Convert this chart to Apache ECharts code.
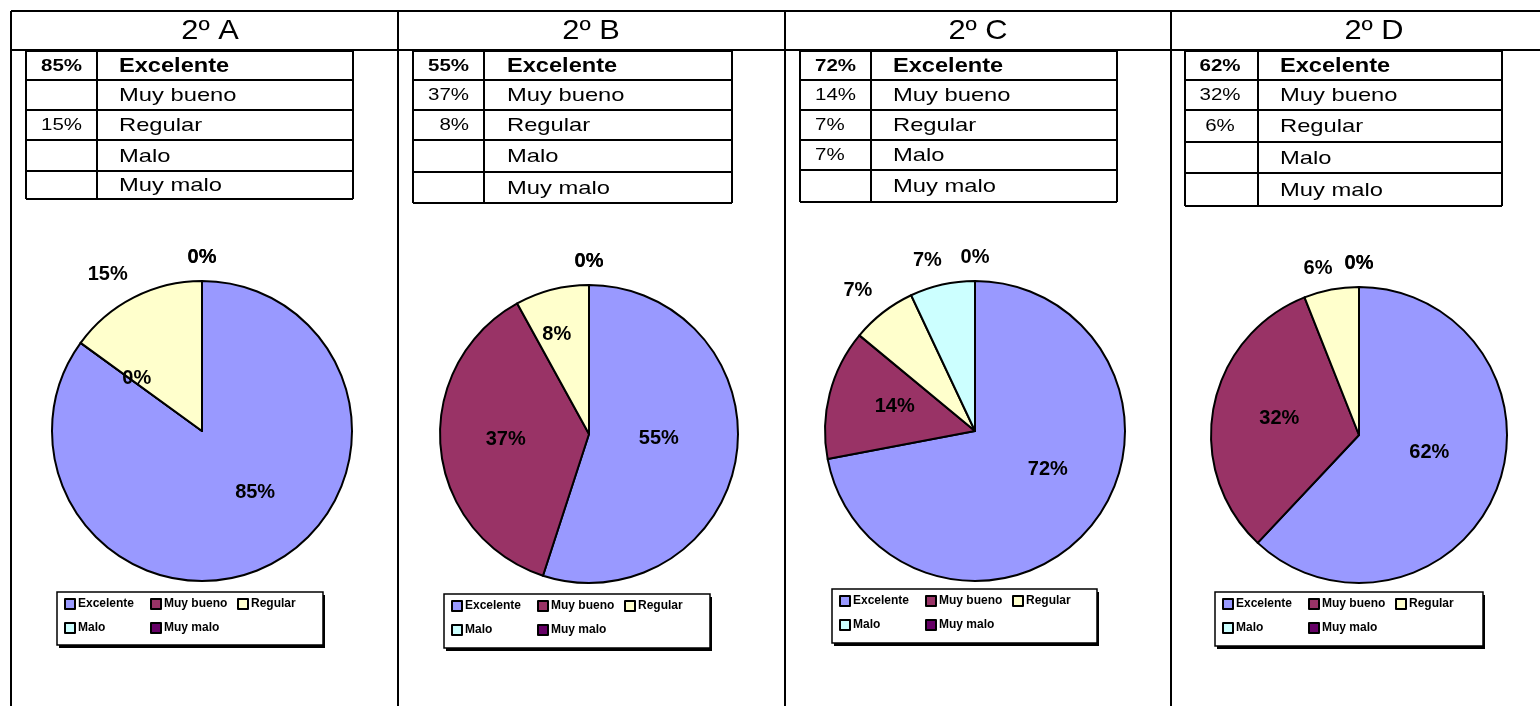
<!DOCTYPE html>
<html>
<head>
<meta charset="utf-8">
<script src="https://cdn.jsdelivr.net/npm/echarts@6/dist/echarts.min.js"></script>
<style>
html,body{margin:0;padding:0;background:#fff;}
#chart{width:1540px;height:706px;}
</style>
</head>
<body>
<div id="chart"></div>
<script>
// ---- data ----
const categories = ['Excelente', 'Muy bueno', 'Regular', 'Malo', 'Muy malo'];
const groups = ['2º A', '2º B', '2º C', '2º D'];
const valuesA = [85, 0, 15, 0, 0];
const valuesB = [55, 37, 8, 0, 0];
const valuesC = [72, 14, 7, 7, 0];
const valuesD = [62, 32, 6, 0, 0];
const allValues = [valuesA, valuesB, valuesC, valuesD];

// ---- styles / layout ----
const colors = ['#9999FF', '#993366', '#FFFFCC', '#CCFFFF', '#660066'];
const FONT = 'Arial, "Liberation Sans", Helvetica, sans-serif';
const panels = [
  { x0: 11, headX: 210, tbl: { l: 26, m: 97, r: 353, rows: [51, 80, 110, 140, 171, 199] }, pctAlign: 'right', pctX: 82, labX: 119,
    pie: { c: [202, 431], r: 150 }, leg: { l: 57, t: 592, w: 266, h: 53 },
    lab: [[0.54, -14], [0.56, 3], [1.22, -4], [1.16, 0], [1.16, 0]] },
  { x0: 398, headX: 591, tbl: { l: 413, m: 484, r: 732, rows: [51, 80, 110, 140, 172, 203] }, pctAlign: 'right', pctX: 469, labX: 507,
    pie: { c: [589, 434], r: 149 }, leg: { l: 444, t: 594, w: 266, h: 54 },
    lab: [[0.47, -5], [0.56, 1.4], [0.70, -3.6], [1.16, 0], [1.16, 0]] },
  { x0: 785, headX: 978, tbl: { l: 800, m: 871, r: 1117, rows: [51, 80, 110, 140, 170, 202] }, pctAlign: 'left', pctX: 815, labX: 893,
    pie: { c: [975, 431], r: 150 }, leg: { l: 832, t: 589, w: 265, h: 54 },
    lab: [[0.55, -11.6], [0.56, 2.6], [1.22, -2], [1.18, -3], [1.16, 0]] },
  { x0: 1171, headX: 1374, tbl: { l: 1185, m: 1258, r: 1502, rows: [51, 80, 110, 142, 173, 206] }, pctAlign: 'center', pctX: 1220, labX: 1280,
    pie: { c: [1359, 435], r: 148 }, leg: { l: 1215, t: 592, w: 268, h: 54 },
    lab: [[0.49, -7.6], [0.55, 1.2], [1.16, -3], [1.16, 0], [1.16, 0]] }
];

const graphics = [];
function line(x1, y1, x2, y2, w) {
  graphics.push({ type: 'line', z: 0, shape: { x1, y1, x2, y2 }, style: { stroke: '#000', lineWidth: w || 2 } });
}
function text(str, x, y, size, weight, align, sx) {
  graphics.push({
    type: 'text', z: 1, x: x, y: y, scaleX: sx || 1, scaleY: 1,
    style: { text: str, x: 0, y: 0, fill: '#000', font: weight + ' ' + size + 'px ' + FONT,
      textAlign: align, align: align, textVerticalAlign: 'middle', verticalAlign: 'middle' }
  });
}

// outer grid
line(11, 11, 1540, 11);
line(11, 50, 1540, 50);
[11, 398, 785, 1171].forEach(x => line(x, 11, x, 706));

const series = [];
const legends = [];

panels.forEach((p, pi) => {
  const vals = allValues[pi];
  text(groups[pi], p.headX, 31, 28, 'normal', 'center', 1.1);
  const t = p.tbl;
  t.rows.forEach(y => line(t.l, y, t.r, y));
  [t.l, t.m, t.r].forEach(x => line(x, t.rows[0], x, t.rows[5]));
  categories.forEach((c, i) => {
    const yc = (t.rows[i] + t.rows[i + 1]) / 2 + 1;
    const bold = i === 0 ? 'bold' : 'normal';
    if (vals[i] > 0) text(vals[i] + '%', p.pctX, yc, 16, bold, p.pctAlign, 1.28);
    text(c, p.labX, yc, i === 0 ? 20 : 19, bold, 'left', i === 0 ? 1.18 : 1.25);
  });
  // legend frame with solid drop shadow
  graphics.push({ type: 'rect', z: 0, shape: { x: p.leg.l + 2, y: p.leg.t + 3, width: p.leg.w, height: p.leg.h },
    style: { fill: '#000', stroke: null } });
  graphics.push({ type: 'rect', z: 0, shape: { x: p.leg.l, y: p.leg.t, width: p.leg.w, height: p.leg.h },
    style: { fill: '#fff', stroke: '#000', lineWidth: 1.5 } });

  const cols = [[categories[0], categories[3]], [categories[1], categories[4]], [categories[2]]];
  const colX = [7, 93, 180];
  cols.forEach((names, ci) => {
    legends.push({
      orient: 'vertical', left: p.leg.l + colX[ci], top: p.leg.t + 5, padding: 0, itemGap: 10,
      itemWidth: 10, itemHeight: 10, icon: 'rect', selectedMode: false, data: names,
      itemStyle: { borderColor: '#000', borderWidth: 2 },
      textStyle: { fontSize: 12, fontWeight: 'bold', fontFamily: FONT, color: '#000', lineHeight: 14, padding: [0, 0, 0, -2] }
    });
  });

  const sum = vals.reduce((a, b) => a + b, 0);
  series.push({
    type: 'pie', center: p.pie.c, radius: p.pie.r, startAngle: 90, clockwise: true,
    avoidLabelOverlap: false, minShowLabelAngle: 0,
    label: { show: true, position: 'inside', formatter: '{c}%', fontSize: 20, fontWeight: 'bold', fontFamily: FONT, color: '#000' },
    labelLine: { show: false },
    itemStyle: { borderColor: '#000', borderWidth: 2 },
    emphasis: { disabled: true },
    data: categories.map((n, i) => ({ name: n, value: vals[i], itemStyle: { color: colors[i] } })),
    labelLayout: function (params) {
      const i = params.dataIndex;
      let start = 0;
      for (let k = 0; k < i; k++) start += vals[k];
      const frac = (start + vals[i] / 2) / sum;
      const th = (frac * 360 + p.lab[i][1]) * Math.PI / 180;
      const rr = p.lab[i][0] * p.pie.r;
      return { x: p.pie.c[0] + rr * Math.sin(th), y: p.pie.c[1] - rr * Math.cos(th), align: 'center', verticalAlign: 'middle' };
    }
  });
});

const chart = echarts.init(document.getElementById('chart'), null, { renderer: 'canvas' });
chart.setOption({
  backgroundColor: '#fff',
  animation: false,
  color: colors,
  legend: legends,
  graphic: { elements: graphics },
  series: series
});
</script>
</body>
</html>
